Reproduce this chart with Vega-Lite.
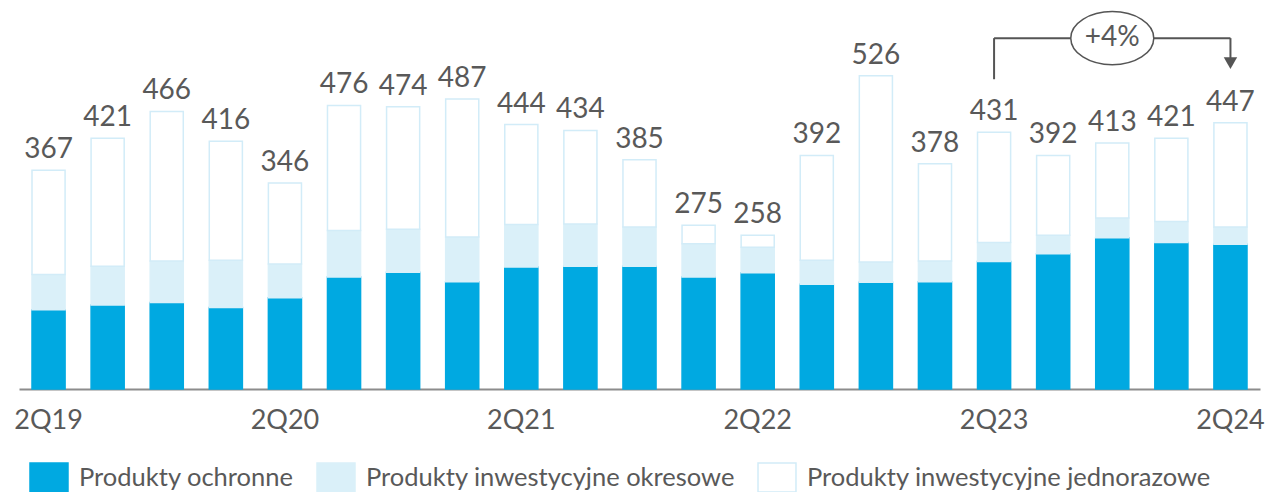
{
  "$schema": "https://vega.github.io/schema/vega-lite/v6.json",
  "width": 1241,
  "height": 389,
  "autosize": {"type": "none"},
  "padding": {"left": 19, "top": 0, "right": 6, "bottom": 103},
  "background": "white",
  "config": {"view": {"stroke": null}, "font": "Lato"},
  "datasets": {
    "bars": [
      {"q": "2Q19", "cat": "Produkty ochronne", "v": 133}, {"q": "2Q19", "cat": "Produkty inwestycyjne okresowe", "v": 59}, {"q": "2Q19", "cat": "Produkty inwestycyjne jednorazowe", "v": 175},
      {"q": "3Q19", "cat": "Produkty ochronne", "v": 141}, {"q": "3Q19", "cat": "Produkty inwestycyjne okresowe", "v": 65}, {"q": "3Q19", "cat": "Produkty inwestycyjne jednorazowe", "v": 215},
      {"q": "4Q19", "cat": "Produkty ochronne", "v": 145}, {"q": "4Q19", "cat": "Produkty inwestycyjne okresowe", "v": 70}, {"q": "4Q19", "cat": "Produkty inwestycyjne jednorazowe", "v": 251},
      {"q": "1Q20", "cat": "Produkty ochronne", "v": 137}, {"q": "1Q20", "cat": "Produkty inwestycyjne okresowe", "v": 79}, {"q": "1Q20", "cat": "Produkty inwestycyjne jednorazowe", "v": 200},
      {"q": "2Q20", "cat": "Produkty ochronne", "v": 153}, {"q": "2Q20", "cat": "Produkty inwestycyjne okresowe", "v": 57}, {"q": "2Q20", "cat": "Produkty inwestycyjne jednorazowe", "v": 136},
      {"q": "3Q20", "cat": "Produkty ochronne", "v": 188}, {"q": "3Q20", "cat": "Produkty inwestycyjne okresowe", "v": 78}, {"q": "3Q20", "cat": "Produkty inwestycyjne jednorazowe", "v": 210},
      {"q": "4Q20", "cat": "Produkty ochronne", "v": 196}, {"q": "4Q20", "cat": "Produkty inwestycyjne okresowe", "v": 72}, {"q": "4Q20", "cat": "Produkty inwestycyjne jednorazowe", "v": 206},
      {"q": "1Q21", "cat": "Produkty ochronne", "v": 180}, {"q": "1Q21", "cat": "Produkty inwestycyjne okresowe", "v": 75}, {"q": "1Q21", "cat": "Produkty inwestycyjne jednorazowe", "v": 232},
      {"q": "2Q21", "cat": "Produkty ochronne", "v": 205}, {"q": "2Q21", "cat": "Produkty inwestycyjne okresowe", "v": 71}, {"q": "2Q21", "cat": "Produkty inwestycyjne jednorazowe", "v": 168},
      {"q": "3Q21", "cat": "Produkty ochronne", "v": 206}, {"q": "3Q21", "cat": "Produkty inwestycyjne okresowe", "v": 71}, {"q": "3Q21", "cat": "Produkty inwestycyjne jednorazowe", "v": 157},
      {"q": "4Q21", "cat": "Produkty ochronne", "v": 206}, {"q": "4Q21", "cat": "Produkty inwestycyjne okresowe", "v": 66}, {"q": "4Q21", "cat": "Produkty inwestycyjne jednorazowe", "v": 113},
      {"q": "1Q22", "cat": "Produkty ochronne", "v": 188}, {"q": "1Q22", "cat": "Produkty inwestycyjne okresowe", "v": 56}, {"q": "1Q22", "cat": "Produkty inwestycyjne jednorazowe", "v": 31},
      {"q": "2Q22", "cat": "Produkty ochronne", "v": 195}, {"q": "2Q22", "cat": "Produkty inwestycyjne okresowe", "v": 43}, {"q": "2Q22", "cat": "Produkty inwestycyjne jednorazowe", "v": 20},
      {"q": "3Q22", "cat": "Produkty ochronne", "v": 176}, {"q": "3Q22", "cat": "Produkty inwestycyjne okresowe", "v": 40}, {"q": "3Q22", "cat": "Produkty inwestycyjne jednorazowe", "v": 176},
      {"q": "4Q22", "cat": "Produkty ochronne", "v": 179}, {"q": "4Q22", "cat": "Produkty inwestycyjne okresowe", "v": 34}, {"q": "4Q22", "cat": "Produkty inwestycyjne jednorazowe", "v": 313},
      {"q": "1Q23", "cat": "Produkty ochronne", "v": 180}, {"q": "1Q23", "cat": "Produkty inwestycyjne okresowe", "v": 35}, {"q": "1Q23", "cat": "Produkty inwestycyjne jednorazowe", "v": 163},
      {"q": "2Q23", "cat": "Produkty ochronne", "v": 214}, {"q": "2Q23", "cat": "Produkty inwestycyjne okresowe", "v": 32}, {"q": "2Q23", "cat": "Produkty inwestycyjne jednorazowe", "v": 185},
      {"q": "3Q23", "cat": "Produkty ochronne", "v": 227}, {"q": "3Q23", "cat": "Produkty inwestycyjne okresowe", "v": 31}, {"q": "3Q23", "cat": "Produkty inwestycyjne jednorazowe", "v": 134},
      {"q": "4Q23", "cat": "Produkty ochronne", "v": 254}, {"q": "4Q23", "cat": "Produkty inwestycyjne okresowe", "v": 33}, {"q": "4Q23", "cat": "Produkty inwestycyjne jednorazowe", "v": 126},
      {"q": "1Q24", "cat": "Produkty ochronne", "v": 246}, {"q": "1Q24", "cat": "Produkty inwestycyjne okresowe", "v": 35}, {"q": "1Q24", "cat": "Produkty inwestycyjne jednorazowe", "v": 140},
      {"q": "2Q24", "cat": "Produkty ochronne", "v": 243}, {"q": "2Q24", "cat": "Produkty inwestycyjne okresowe", "v": 29}, {"q": "2Q24", "cat": "Produkty inwestycyjne jednorazowe", "v": 175}
    ],
    "totals": [
      {"q": "2Q19", "total": 367}, {"q": "3Q19", "total": 421}, {"q": "4Q19", "total": 466}, {"q": "1Q20", "total": 416},
      {"q": "2Q20", "total": 346}, {"q": "3Q20", "total": 476}, {"q": "4Q20", "total": 474}, {"q": "1Q21", "total": 487},
      {"q": "2Q21", "total": 444}, {"q": "3Q21", "total": 434}, {"q": "4Q21", "total": 385}, {"q": "1Q22", "total": 275},
      {"q": "2Q22", "total": 258}, {"q": "3Q22", "total": 392}, {"q": "4Q22", "total": 526}, {"q": "1Q23", "total": 378},
      {"q": "2Q23", "total": 431}, {"q": "3Q23", "total": 392}, {"q": "4Q23", "total": 413}, {"q": "1Q24", "total": 421},
      {"q": "2Q24", "total": 447}
    ],
    "vlines": [
      {"q": "2Q23", "y": 520, "y2": 589},
      {"q": "2Q24", "y": 548, "y2": 589}
    ],
    "hline": [{"q": "2Q23", "q2": "2Q24", "y": 589}],
    "arrow": [{"q": "2Q24", "y": 547}],
    "badge": [{"q": "4Q23", "y": 589, "label": "+4%"}]
  },
  "encoding": {
    "x": {
      "field": "q",
      "type": "ordinal",
      "sort": null,
      "scale": {
        "domain": ["2Q19","3Q19","4Q19","1Q20","2Q20","3Q20","4Q20","1Q21","2Q21","3Q21","4Q21","1Q22","2Q22","3Q22","4Q22","1Q23","2Q23","3Q23","4Q23","1Q24","2Q24"],
        "paddingInner": 0.44,
        "paddingOuter": 0.22
      },
      "axis": {
        "title": null,
        "ticks": false,
        "domainColor": "#8c8c8c",
        "domainWidth": 2,
        "labelAngle": 0,
        "labelFontSize": 27,
        "labelColor": "#595959",
        "labelPadding": 18,
        "labelExpr": "indexof(datum.label, '2Q') == 0 ? datum.label : ''"
      }
    }
  },
  "layer": [
    {
      "data": {"name": "bars"},
      "transform": [
        {"calculate": "indexof(['Produkty ochronne','Produkty inwestycyjne okresowe','Produkty inwestycyjne jednorazowe'], datum.cat)", "as": "ord"}
      ],
      "mark": {"type": "bar", "strokeWidth": 1.5},
      "encoding": {
        "y": {"field": "v", "type": "quantitative", "stack": "zero", "scale": {"domain": [0, 653], "nice": false}, "axis": null},
        "order": {"field": "ord", "type": "quantitative", "sort": "ascending"},
        "fill": {
          "field": "cat", "type": "nominal",
          "scale": {"domain": ["Produkty ochronne","Produkty inwestycyjne okresowe","Produkty inwestycyjne jednorazowe"], "range": ["#00A9E1", "#DAF0F9", "#FFFFFF"]},
          "legend": {
            "title": null, "orient": "none", "legendX": 14.5, "legendY": 462, "direction": "horizontal",
            "symbolType": "M-1.31,-1H1.31V1H-1.31Z", "symbolSize": 841, "symbolStrokeWidth": 1.5, "symbolOpacity": 1,
            "labelFontSize": 25.5, "labelColor": "#595959", "labelOffset": 14.5, "columnPadding": 19, "labelLimit": 600
          }
        },
        "stroke": {
          "field": "cat", "type": "nominal",
          "scale": {"domain": ["Produkty ochronne","Produkty inwestycyjne okresowe","Produkty inwestycyjne jednorazowe"], "range": ["#00A9E1", "#DAF0F9", "#D2ECF8"]},
          "legend": {
            "title": null, "orient": "none", "legendX": 14.5, "legendY": 462, "direction": "horizontal",
            "symbolType": "M-1.31,-1H1.31V1H-1.31Z", "symbolSize": 841, "symbolStrokeWidth": 1.5, "symbolOpacity": 1,
            "labelFontSize": 25.5, "labelColor": "#595959", "labelOffset": 14.5, "columnPadding": 19, "labelLimit": 600
          }
        }
      }
    },
    {
      "data": {"name": "totals"},
      "mark": {"type": "text", "fontSize": 28, "color": "#595959", "baseline": "alphabetic", "dy": -12},
      "encoding": {
        "y": {"field": "total", "type": "quantitative"},
        "text": {"field": "total", "type": "quantitative"}
      }
    },
    {
      "data": {"name": "vlines"},
      "mark": {"type": "rule", "color": "#555555", "strokeWidth": 2},
      "encoding": {
        "y": {"field": "y", "type": "quantitative"},
        "y2": {"field": "y2"}
      }
    },
    {
      "data": {"name": "hline"},
      "mark": {"type": "rule", "color": "#555555", "strokeWidth": 2},
      "encoding": {
        "x2": {"field": "q2"},
        "y": {"field": "y", "type": "quantitative"}
      }
    },
    {
      "data": {"name": "arrow"},
      "mark": {"type": "point", "shape": "triangle-down", "filled": true, "color": "#555555", "size": 180, "opacity": 1},
      "encoding": {
        "y": {"field": "y", "type": "quantitative"}
      }
    },
    {
      "data": {"name": "badge"},
      "mark": {"type": "point", "shape": "M-1,0A1,0.64 0 1,1 1,0A1,0.64 0 1,1 -1,0Z", "filled": false, "fill": "white", "fillOpacity": 1, "stroke": "#555555", "strokeWidth": 1.5, "size": 6889, "opacity": 1},
      "encoding": {
        "y": {"field": "y", "type": "quantitative"}
      }
    },
    {
      "data": {"name": "badge"},
      "mark": {"type": "text", "fontSize": 28, "color": "#595959", "baseline": "middle", "align": "center"},
      "encoding": {
        "y": {"field": "y", "type": "quantitative"},
        "text": {"field": "label"}
      }
    }
  ]
}
